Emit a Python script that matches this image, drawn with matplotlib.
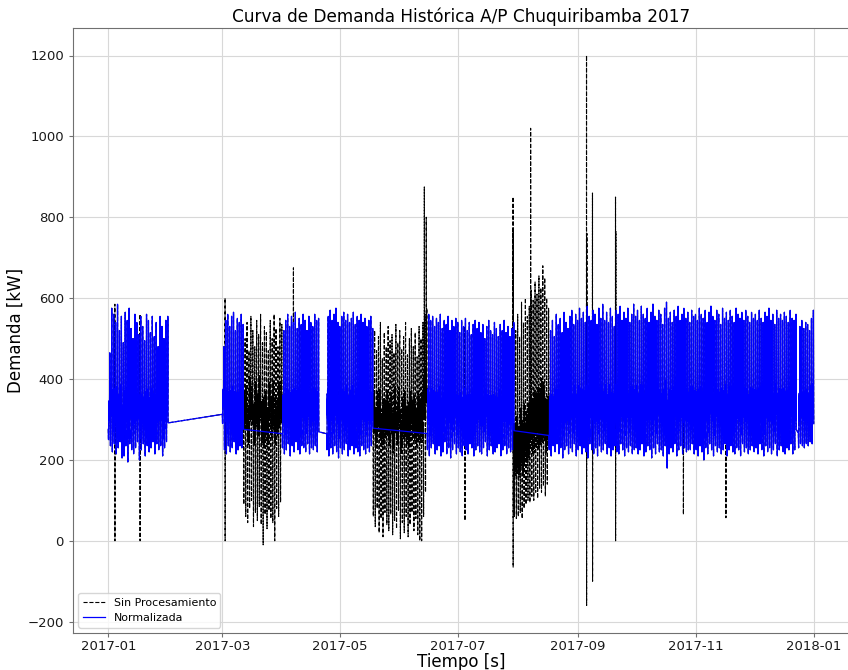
"""
Curva de demanda histórica 2017 del alimentador A/P Chuquiribamba:
datos crudos del medidor (línea negra discontinua) y serie normalizada (azul).

Cada tramo se guarda como picos y valles diarios en kW; la forma del día
típico (hora 0..23) reparte cada día entre su valle y su pico.
"""

import numpy as np
import pandas as pd
import matplotlib
matplotlib.use("Agg")
import matplotlib.pyplot as plt
import matplotlib.dates as mdates

# forma del día típico: fracción entre valle (0) y pico (1), hora a hora
perfil_normalizado = [0.12, 0.08, 0.03, 0.00, 0.06, 0.16, 0.30, 0.42, 0.26, 0.38, 0.22, 0.45,
                      0.28, 0.40, 0.24, 0.36, 0.50, 0.55, 0.92, 1.00, 0.62, 0.40, 0.26, 0.15]
perfil_crudo = [0.45, 0.30, 0.10, 0.00, 0.12, 0.40, 0.55, 0.68, 0.50, 0.62, 0.48, 0.58,
                0.45, 0.66, 0.52, 0.60, 0.70, 0.78, 0.95, 1.00, 0.80, 0.65, 0.55, 0.48]
perfil_crudo_ago = [0.30, 0.20, 0.08, 0.00, 0.10, 0.18, 0.35, 0.50, 0.30, 0.45, 0.25, 0.40,
                    0.22, 0.48, 0.30, 0.42, 0.55, 0.62, 0.95, 1.00, 0.70, 0.50, 0.40, 0.32]

# --- tramos válidos (serie normalizada) ---
ene_inicio = "2017-01-01"
ene_pico = [465, 575, 560, 540, 585, 520, 555, 490, 565, 545, 575, 525, 500, 560, 540, 510,
            555, 530, 495, 560, 545, 515, 555, 505, 540, 480, 555, 530, 500, 545, 555]
ene_valle = [250, 235, 220, 240, 215, 230, 245, 205, 210, 235, 195, 240, 225, 215, 230, 245,
             200, 225, 240, 210, 235, 220, 230, 245, 215, 240, 225, 235, 210, 230, 245]

mar_inicio = "2017-03-01"
mar_pico = [480, 545, 560, 530, 555, 565, 520, 550, 540, 560, 535]
mar_valle = [290, 225, 215, 235, 220, 230, 245, 215, 225, 235, 230]

abr_inicio = "2017-04-01"
abr_pico = [520, 545, 560, 530, 555, 540, 565, 525, 550, 535, 560, 545, 520, 555, 540, 530,
            560, 545, 550]
abr_valle = [230, 215, 225, 240, 210, 235, 220, 245, 225, 215, 235, 230, 220, 240, 215, 230,
             225, 235, 220]

may_inicio = "2017-04-24"
may_pico = [555, 570, 545, 560, 575, 540, 530, 555, 565, 545, 560, 540, 550, 565, 535, 555,
            545, 560, 540, 550, 530, 545, 555, 525]
may_valle = [225, 210, 230, 215, 235, 220, 205, 230, 215, 225, 240, 210, 225, 235, 215, 230,
             220, 210, 235, 225, 215, 230, 220, 235]

jun_inicio = "2017-06-15"
jun_pico = [560, 545, 555, 530, 550, 540, 560, 525, 545, 535, 555, 520, 545, 530, 550, 540,
            515, 545, 530, 550, 520, 540, 510, 535, 545, 525, 540, 515, 535, 500, 530, 545,
            520, 510, 540, 525, 505, 535, 520, 545, 515, 530, 505, 525, 540]
jun_valle = [225, 210, 230, 240, 215, 225, 235, 210, 220, 245, 215, 230, 205, 225, 240, 215,
             230, 220, 210, 235, 225, 215, 240, 230, 210, 225, 235, 220, 215, 230, 245, 210,
             225, 235, 215, 220, 230, 240, 210, 225, 235, 215, 230, 220, 225]

ago_inicio = "2017-08-17"
ago_pico = [520, 545, 505, 560, 535, 550, 515, 565, 540, 525, 555, 570, 535, 560, 545,
            575, 550, 565, 540, 580, 555, 545, 570, 560, 535, 575, 550, 585, 545, 565,
            540, 575, 555, 530, 570, 560, 580, 545, 565, 550, 575, 540, 560, 585, 555,
            570, 545, 580, 560, 550, 575, 540, 565, 585, 555, 545, 570, 560, 535, 575,
            590, 550, 565, 540, 570, 555, 580, 545, 560, 575, 550, 565, 540, 570, 555, 560,
            545, 575, 560, 550, 570, 540, 565, 580, 555, 545, 570, 560, 535, 575, 550,
            565, 545, 570, 555, 540, 575, 560, 550, 565, 545, 570, 555, 540, 565, 550,
            560, 545, 570, 550, 540, 565, 555, 575, 545, 560, 535, 570, 550, 560, 545,
            565, 555, 540, 570, 550, 545, 560, 520, 530, 545, 525, 540, 535, 520, 550, 570]
ago_valle = [225, 210, 235, 220, 240, 215, 230, 205, 225, 235, 215, 230, 220, 240, 210,
             225, 235, 215, 230, 220, 205, 240, 225, 215, 230, 210, 235, 220, 225, 240,
             215, 230, 210, 225, 235, 220, 215, 240, 225, 210, 230, 220, 235, 215, 225,
             230, 215, 225, 240, 210, 220, 235, 225, 205, 230, 215, 240, 220, 225, 210,
             235, 180, 215, 230, 220, 240, 210, 225, 235, 215, 230, 220, 225, 225, 240, 215,
             225, 210, 235, 220, 200, 230, 215, 240, 225, 210, 235, 220, 230, 215, 225,
             240, 210, 225, 235, 220, 215, 230, 225, 210, 240, 220, 230, 215, 225, 235,
             220, 230, 215, 240, 225, 210, 235, 220, 230, 215, 225, 240, 210, 225, 235,
             220, 215, 230, 225, 240, 215, 225, 235, 230, 240, 235, 230, 240, 235, 245, 240]

# día sin registro en diciembre
dia_faltante = "2017-12-23"

# --- tramos descartados: sólo existen en los datos crudos ---
crudo_mar_inicio = "2017-03-12"
crudo_mar_pico = [500, 540, 470, 555, 520, 480, 545, 510, 560, 490, 530, 515, 470, 545, 500,
                  560, 525, 480, 550, 535]
crudo_mar_valle = [90, 60, 45, 80, 100, 35, 70, 50, 85, 40, -10, 65, 30, 75, 55, 45, 0, 80,
                   60, 95]

crudo_may_inicio = "2017-05-18"
crudo_may_pico = [520, 470, 505, 540, 450, 515, 480, 530, 495, 510, 465, 535, 490, 520, 475,
                  505, 540, 460, 500, 525, 480, 515, 455, 530, 500, 540, 560, 575]
crudo_may_valle = [60, 35, 80, 20, 55, 10, 70, 40, 25, 65, 15, 50, 30, 75, 5, 45, 20, 60, 10,
                   40, 70, 25, 55, 15, 35, 0, 60, 120]

crudo_jul_inicio = "2017-07-30"
crudo_jul_pico = [520, 560, 505, 590, 540, 600, 555, 580, 620, 595, 640, 610, 655, 625, 680,
                  650, 600, 575]
crudo_jul_valle = [60, 55, 60, 70, 55, 80, 90, 100, 95, 110, 100, 120, 105, 130, 120, 135,
                   110, 140]

# lecturas erróneas puntuales del medidor
saltos_fecha = ["2017-01-04 10:00", "2017-01-04 11:00", "2017-01-17 10:00", "2017-01-17 11:00",
                "2017-03-02 10:00", "2017-03-02 11:00", "2017-04-06 19:00",
                "2017-06-11 04:00", "2017-06-13 12:00", "2017-06-14 12:00",
                "2017-07-04 12:00", "2017-07-04 13:00",
                "2017-07-29 10:00", "2017-07-29 11:00", "2017-07-29 12:00",
                "2017-08-07 12:00",
                "2017-09-05 10:00", "2017-09-05 11:00", "2017-09-05 14:00",
                "2017-09-08 12:00", "2017-09-08 13:00",
                "2017-09-20 10:00", "2017-09-20 11:00", "2017-09-20 14:00",
                "2017-10-25 12:00", "2017-10-25 13:00", "2017-11-16 13:00"]
saltos_valor = [585, 0, 560, 0,
                600, 0, 675,
                0, 875, 800,
                530, 50,
                850, -65, 770,
                1020,
                1200, -160, 760,
                860, -100,
                850, 0, 765,
                560, 65, 57]


def serie_horaria(inicio, picos, valles, perfil):
    dias = len(picos)
    idx = pd.date_range(inicio, periods=24 * dias, freq="h")
    pico = np.repeat(np.asarray(picos, dtype=float), 24)
    valle = np.repeat(np.asarray(valles, dtype=float), 24)
    forma = np.tile(np.asarray(perfil, dtype=float), dias)
    return pd.Series(valle + (pico - valle) * forma, index=idx)


def main(save_path="out.png"):
    tramos = [(ene_inicio, ene_pico, ene_valle), (mar_inicio, mar_pico, mar_valle),
              (abr_inicio, abr_pico, abr_valle), (may_inicio, may_pico, may_valle),
              (jun_inicio, jun_pico, jun_valle), (ago_inicio, ago_pico, ago_valle)]
    normalizada = pd.concat([serie_horaria(i, p, v, perfil_normalizado) for i, p, v in tramos])
    normalizada = normalizada[normalizada.index.normalize() != pd.Timestamp(dia_faltante)]

    descartes = [serie_horaria(crudo_mar_inicio, crudo_mar_pico, crudo_mar_valle, perfil_crudo),
                 serie_horaria(crudo_may_inicio, crudo_may_pico, crudo_may_valle, perfil_crudo),
                 serie_horaria(crudo_jul_inicio, crudo_jul_pico, crudo_jul_valle,
                               perfil_crudo_ago)]
    crudo = pd.concat([normalizada] + descartes).sort_index()
    for fecha, valor in zip(saltos_fecha, saltos_valor):
        crudo.loc[pd.Timestamp(fecha)] = valor

    plt.rcParams["font.family"] = "DejaVu Sans"
    fig = plt.figure(figsize=(8.48, 6.70), dpi=100)
    ax = fig.add_axes([73 / 848, 37 / 670, 776 / 848, 605 / 670])

    ax.plot(crudo.index, crudo.values, "k--", lw=0.8, label="Sin Procesamiento")
    ax.plot(normalizada.index, normalizada.values, color="blue", lw=0.9, label="Normalizada")

    ax.xaxis.set_major_locator(mdates.MonthLocator(bymonth=[1, 3, 5, 7, 9, 11]))
    ax.xaxis.set_major_formatter(mdates.DateFormatter("%Y-%m"))
    ax.set_yticks(range(-200, 1201, 200))

    ax.grid(True, color="#d8d8d8", lw=0.8)
    ax.set_axisbelow(True)
    for lado in ax.spines.values():
        lado.set_color("#707070")
    ax.tick_params(labelsize=9.5, colors="#707070", labelcolor="#1a1a1a", length=3)
    ax.tick_params(axis="x", pad=2)

    ax.set_title("Curva de Demanda Histórica A/P Chuquiribamba 2017", fontsize=12.2, pad=4)
    ax.set_xlabel("Tiempo [s]", fontsize=12, labelpad=0)
    ax.set_ylabel("Demanda [kW]", fontsize=12, labelpad=2)
    ax.legend(loc="lower left", fontsize=7.9)

    fig.savefig(save_path, dpi=100)


if __name__ == "__main__":
    main()
